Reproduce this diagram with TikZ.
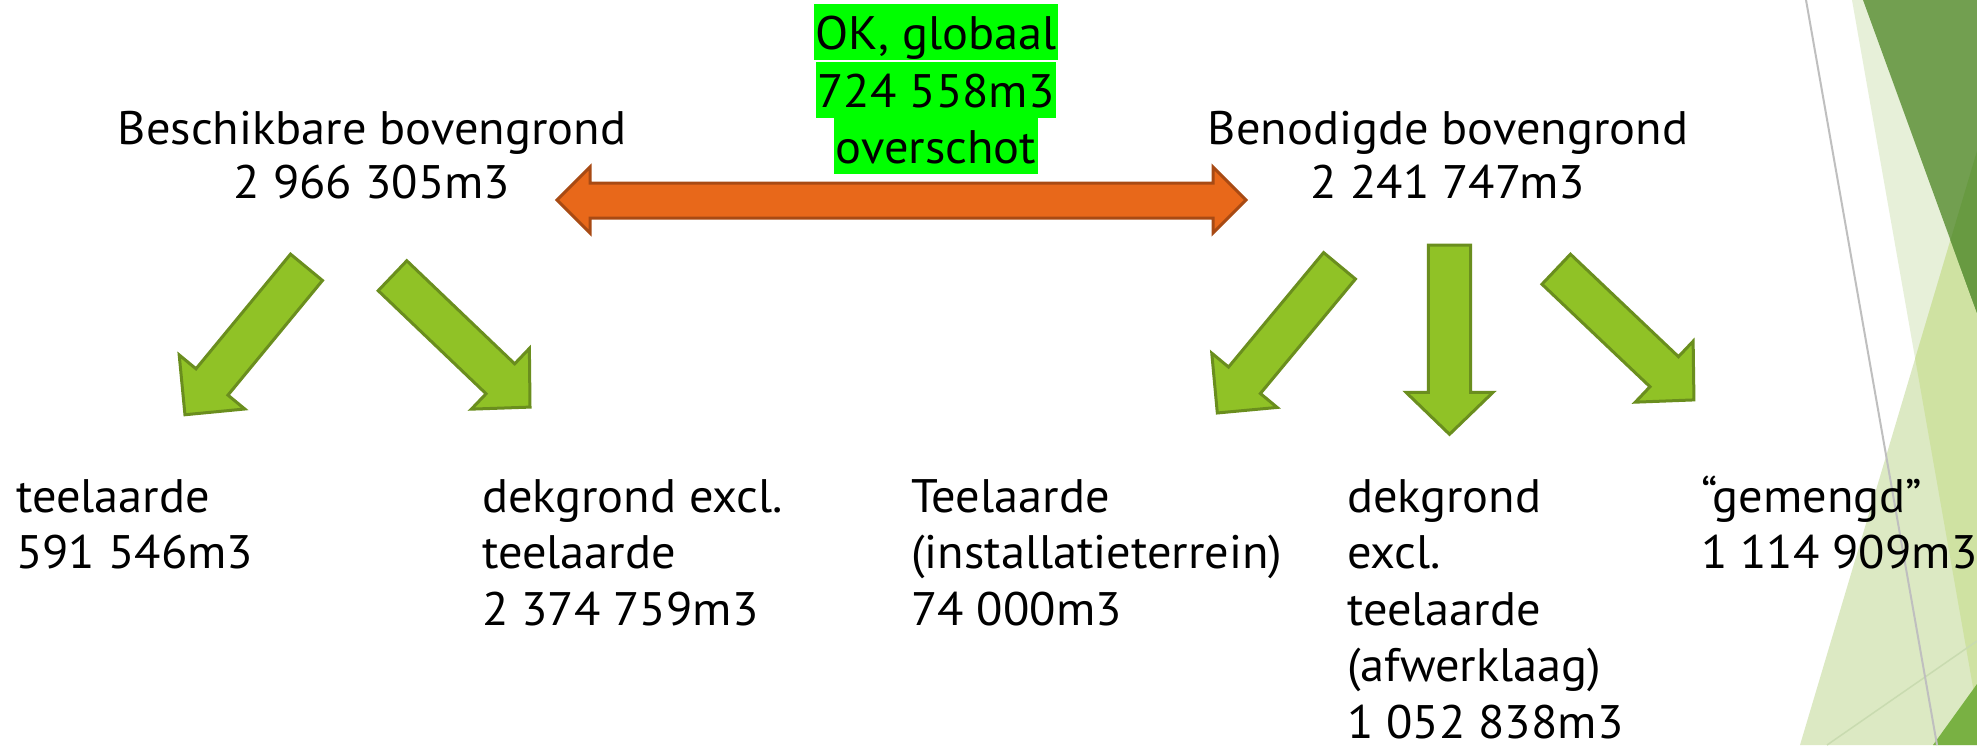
\documentclass[tikz,border=0pt]{standalone}
\usepackage{fontspec}
\setmainfont{PT Sans}[FakeStretch=1.03]
\definecolor{hlgreen}{RGB}{0,255,0}
\definecolor{arrgreen}{RGB}{144,194,38}
\definecolor{arrgreenb}{RGB}{106,142,30}
\definecolor{arrorange}{RGB}{232,104,26}
\definecolor{arrorangeb}{RGB}{168,74,20}
\definecolor{decopale}{RGB}{231,240,217}
\definecolor{decolight}{RGB}{220,233,195}
\definecolor{decoover}{RGB}{207,226,162}
\definecolor{decodark}{RGB}{114,159,80}
\definecolor{decodarkover}{RGB}{104,154,65}
\definecolor{decocorner}{RGB}{121,177,67}
\definecolor{decothin}{RGB}{201,219,176}
\definecolor{decogray}{RGB}{191,191,191}
% tail-mid x, y, angle, shaft length, half shaft width, half head width, head length, style
\newcommand{\blockarrow}[8]{%
  \begin{scope}[shift={(#1,#2)},rotate=#3]
    \draw[#8] (0,-#5) -- (#4,-#5) -- (#4,-#6) -- ({#4+#7},0) -- (#4,#6) -- (#4,#5) -- (0,#5) -- cycle;
  \end{scope}}
\begin{document}
\begin{tikzpicture}[x=1pt,y=-1pt,
  toptxt/.style={inner sep=0pt, anchor=base, font=\fontsize{47}{54}\selectfont},
  bottxt/.style={inner sep=0pt, anchor=base west, font=\fontsize{47}{56.5}\selectfont},
  hl/.style={fill=hlgreen, inner xsep=2pt, inner ysep=0pt, text height=45pt, text depth=11pt, anchor=base, font=\fontsize{47}{57}\selectfont},
  garrow/.style={fill=arrgreen, draw=arrgreenb, line width=3pt, line join=miter},
  oarrow/.style={fill=arrorange, draw=arrorangeb, line width=3pt, line join=miter}]
\useasboundingbox (0,0) rectangle (1977,745);
\fill[white] (0,0) rectangle (1977,745);

% right-hand decoration
\fill[decopale] (1852,0) -- (1977,0) -- (1977,710) -- cycle;
\fill[decolight] (1800,745) -- (1977,151) -- (1977,745) -- cycle;
\begin{scope}
  \clip (1800,745) -- (1977,151) -- (1977,745) -- cycle;
  \fill[decoover] (1852,0) -- (1977,0) -- (1977,710) -- cycle;
\end{scope}
\fill[decodark] (1863,0) -- (1977,0) -- (1977,313) -- cycle;
\begin{scope}
  \clip (1800,745) -- (1977,151) -- (1977,745) -- cycle;
  \fill[decodarkover] (1863,0) -- (1977,0) -- (1977,313) -- cycle;
\end{scope}
\fill[decocorner] (1933,745) -- (1977,684) -- (1977,745) -- cycle;
\draw[decothin, line width=1.5pt] (1827,745) -- (1977,641);
\draw[decogray, line width=2pt] (1806,0) -- (1937,745);

% top texts
\node[toptxt] (avail) at (372,144) {\begin{tabular}[t]{@{}c@{}}Beschikbare bovengrond\\2 966 305m3\end{tabular}};
\node[toptxt] (need) at (1448,144) {\begin{tabular}[t]{@{}c@{}}Benodigde bovengrond\\2 241 747m3\end{tabular}};

% highlighted text
\node[hl] (ok) at (936,49) {OK, globaal};
\node[hl] (amount) at (936,107) {724 558m3};
\node[hl] (surplus) at (936,163) {overschot};

% double arrow
\draw[oarrow] (557,200) -- (590,167) -- (590,183) -- (1213,183) -- (1213,167) -- (1246,200)
  -- (1213,233) -- (1213,218) -- (590,218) -- (590,233) -- cycle;

% green block arrows
\blockarrow{306.5}{267.3}{230.5}{148.6}{20.7}{42.5}{42.5}{garrow}
\blockarrow{392.5}{275.7}{-43.7}{149.2}{20.7}{42}{41}{garrow}
\blockarrow{1339.5}{265.8}{230.3}{148.8}{20.7}{42.5}{42.5}{garrow}
\blockarrow{1449.5}{245}{-90}{147.3}{21.2}{43.5}{42}{garrow}
\blockarrow{1556.2}{269.2}{-43.5}{148.9}{20.7}{42}{41}{garrow}

% bottom texts
\node[bottxt] (tl1) at (16,512) {\begin{tabular}[t]{@{}l@{}}teelaarde\\591 546m3\end{tabular}};
\node[bottxt] (dg1) at (482,512) {\begin{tabular}[t]{@{}l@{}}dekgrond excl.\\teelaarde\\2 374 759m3\end{tabular}};
\node[bottxt] (tl2) at (911,512) {\begin{tabular}[t]{@{}l@{}}Teelaarde\\(installatieterrein)\\74 000m3\end{tabular}};
\node[bottxt] (dg2) at (1347,512) {\begin{tabular}[t]{@{}l@{}}dekgrond\\excl.\\teelaarde\\(afwerklaag)\\1 052 838m3\end{tabular}};
\node[bottxt] (gem) at (1701,512) {\begin{tabular}[t]{@{}l@{}}“gemengd”\\1 114 909m3\end{tabular}};
\end{tikzpicture}
\end{document}
